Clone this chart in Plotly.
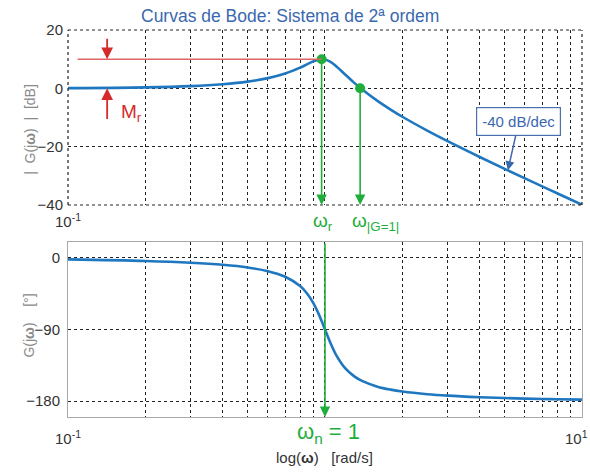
import plotly.graph_objects as go
import math

# ---- data ----
omega = [0.1, 0.2, 0.3, 0.4, 0.5, 0.6, 0.7, 0.8, 0.85, 0.9, 0.95, 0.97, 1.0, 1.05, 1.1,
         1.2, 1.3, 1.4, 1.6, 1.8, 2.0, 2.5, 3.0, 4.0, 5.0, 6.0, 7.0, 8.0, 10.0]
mag_db = [0.08, 0.34, 0.77, 1.42, 2.3, 3.5, 5.08, 7.1, 8.21, 9.24, 9.92, 10.0, 9.9, 9.09, 7.75,
          4.67, 1.88, -0.5, -4.31, -7.28, -9.74, -14.5, -18.12, -23.55, -27.62, -30.89, -33.63, -35.99, -39.92]
phase_deg = [-1.85, -3.81, -6.02, -8.66, -12.04, -16.7, -23.71, -35.42, -44.43, -56.58, -72.22, -79.2, -90.0,
             -106.97, -120.82, -138.89, -148.91, -154.98, -161.83, -165.58, -167.96, -171.34, -173.16,
             -175.12, -176.19, -176.86, -177.33, -177.67, -178.15]

omega_r, mag_r = 0.97, 10.0       # resonance peak
omega_c, mag_c = 1.37, 0.0        # |G| = 1 crossing
omega_n = 1.0

x_tickvals = [0.1, 0.2, 0.3, 0.4, 0.5, 0.6, 0.7, 0.8, 0.9, 1, 2, 3, 4, 5, 6, 7, 8, 9, 10]
top_ticktext = ["10<sup>-1</sup>"] + [""] * 18
bot_ticktext = ["10<sup>-1</sup>"] + [""] * 18
mag_ticks = [-40, -20, 0, 20]
phase_ticks = [-180, -90, 0]

BLUE = "#1f77c0"
GREEN = "#1fae3c"
RED = "#d42a2a"
FONT = "Liberation Sans, Arial, sans-serif"
L = math.log10

fig = go.Figure()
fig.add_trace(go.Scatter(x=omega, y=mag_db, mode="lines", line=dict(color=BLUE, width=2.6, shape="spline"),
                         xaxis="x", yaxis="y", hoverinfo="skip"))
fig.add_trace(go.Scatter(x=omega, y=phase_deg, mode="lines", line=dict(color=BLUE, width=2.6, shape="spline"),
                         xaxis="x2", yaxis="y2", hoverinfo="skip"))
fig.add_trace(go.Scatter(x=[omega_r, omega_c], y=[mag_r, mag_c], mode="markers",
                         marker=dict(color=GREEN, size=10), xaxis="x", yaxis="y", hoverinfo="skip"))

grid = dict(showgrid=True, gridcolor="#222222", griddash="dot", gridwidth=1, automargin=False)
tickfont = dict(family=FONT, size=15, color="#333333")

fig.update_layout(
    width=590, height=472, margin=dict(l=0, r=0, t=0, b=0, autoexpand=False),
    paper_bgcolor="white", plot_bgcolor="white", showlegend=False,
    font=dict(family=FONT),
    xaxis=dict(type="log", domain=[0.1153, 0.9864], range=[-1, 1], anchor="y",
               tickvals=x_tickvals, ticktext=top_ticktext, tickfont=tickfont, ticks="",
               ticklabelstandoff=6, showline=False, zeroline=False, **grid),
    yaxis=dict(domain=[0.5657, 0.9364], range=[-40, 20], anchor="x", tickvals=mag_ticks,
               tickfont=tickfont, ticks="", ticklabelstandoff=4, showline=False, zeroline=False, **grid),
    xaxis2=dict(type="log", domain=[0.1153, 0.9864], range=[-1, 1], anchor="y2",
                tickvals=x_tickvals, ticktext=bot_ticktext, tickfont=tickfont, ticks="",
                ticklabelstandoff=8, showline=True, linecolor="#a8a8a8", mirror=True, zeroline=False, **grid),
    yaxis2=dict(domain=[0.1165, 0.4873], range=[-200, 20], anchor="x2", tickvals=phase_ticks,
                tickfont=tickfont, ticks="", ticklabelstandoff=4, showline=True, linecolor="#a8a8a8",
                mirror=True, zeroline=False, **grid),
)

# dotted frame of the magnitude plot
for (x0, y0, x1, y1) in [(0, 0, 1, 0), (0, 1, 1, 1), (0, 0, 0, 1), (1, 0, 1, 1)]:
    fig.add_shape(type="line", xref="x domain", yref="y domain", x0=x0, y0=y0, x1=x1, y1=y1,
                  line=dict(color="#222222", width=1.2, dash="dot"))

# red M_r reference line
fig.add_shape(type="line", xref="x", yref="y", x0=0.109, x1=omega_r, y0=mag_r, y1=mag_r,
              line=dict(color="#e06666", width=1.5))

ann = []
# title
ann.append(dict(text="Curvas de Bode: Sistema de 2ª ordem", xref="paper", yref="paper",
                x=0.492, y=0.966, showarrow=False, font=dict(family=FONT, size=17.5, color="#3a68b0")))
# y-axis titles
ann.append(dict(text="|  G(j<b>ω</b>)  |  [dB]", xref="paper", yref="paper", x=0.034, y=0.725,
                showarrow=False, textangle=-90, font=dict(family=FONT, size=14, color="#8a8a8a")))
ann.append(dict(text="G(j<b>ω</b>)    [°]", xref="paper", yref="paper", x=0.032, y=0.31,
                showarrow=False, textangle=-90, font=dict(family=FONT, size=14, color="#8a8a8a")))
# 10^1 label at the right end of the lower axis
ann.append(dict(text="10<sup>1</sup>", xref="paper", yref="paper", x=1.0, xanchor="right", y=0.074,
                showarrow=False, font=tickfont))
# x-axis title
ann.append(dict(text="log(<b>ω</b>)   [rad/s]", xref="paper", yref="paper", x=0.55, y=0.03,
                showarrow=False, font=dict(family=FONT, size=15, color="#333333")))
# red arrows M_r
ann.append(dict(x=L(0.142), y=mag_r, xref="x", yref="y", ax=L(0.142), ay=17.5, axref="x", ayref="y",
                showarrow=True, arrowhead=2, arrowsize=1.3, arrowwidth=1.8, arrowcolor=RED, text=""))
ann.append(dict(x=L(0.142), y=0, xref="x", yref="y", ax=L(0.142), ay=-11, axref="x", ayref="y",
                showarrow=True, arrowhead=2, arrowsize=1.3, arrowwidth=1.8, arrowcolor=RED, text=""))
ann.append(dict(text="M<sub>r</sub>", x=L(0.176), y=-8.5, xref="x", yref="y", showarrow=False,
                font=dict(family=FONT, size=19, color=RED)))
# green arrows top
ann.append(dict(x=L(omega_r), y=-40, xref="x", yref="y", ax=L(omega_r), ay=mag_r, axref="x", ayref="y",
                showarrow=True, arrowhead=2, arrowsize=1.3, arrowwidth=1.6, arrowcolor=GREEN, text=""))
ann.append(dict(x=L(omega_c), y=-40, xref="x", yref="y", ax=L(omega_c), ay=mag_c, axref="x", ayref="y",
                showarrow=True, arrowhead=2, arrowsize=1.3, arrowwidth=1.6, arrowcolor=GREEN, text=""))
ann.append(dict(text="ω<sub>r</sub>", xref="paper", yref="paper", x=0.548, y=0.53, showarrow=False,
                font=dict(family=FONT, size=19, color=GREEN)))
ann.append(dict(text="ω<sub>|G=1|</sub>", xref="paper", yref="paper", x=0.637, y=0.53, showarrow=False,
                font=dict(family=FONT, size=19, color=GREEN)))
# green arrow bottom
ann.append(dict(x=L(omega_n), y=-200, xref="x2", yref="y2", ax=L(omega_n), ay=20, axref="x2", ayref="y2",
                showarrow=True, arrowhead=2, arrowsize=1.3, arrowwidth=1.6, arrowcolor=GREEN, text=""))
ann.append(dict(text="ω<sub>n</sub> = 1", xref="paper", yref="paper", x=0.556, y=0.082, showarrow=False,
                font=dict(family=FONT, size=22, color=GREEN)))
# -40 dB/dec box
ann.append(dict(text="-40 dB/dec", x=L(5.15), y=-28.1, xref="x", yref="y", ax=11, ay=-49,
                showarrow=True, arrowhead=2, arrowsize=1.2, arrowwidth=1.5, arrowcolor="#3a68b0",
                bordercolor="#4a70b0", borderwidth=1.2, borderpad=5, bgcolor="white",
                font=dict(family=FONT, size=15, color="#3a68b0")))
for a in ann:
    a.setdefault("yanchor", "middle")
fig.update_layout(annotations=ann)

fig.write_html("out.html")
